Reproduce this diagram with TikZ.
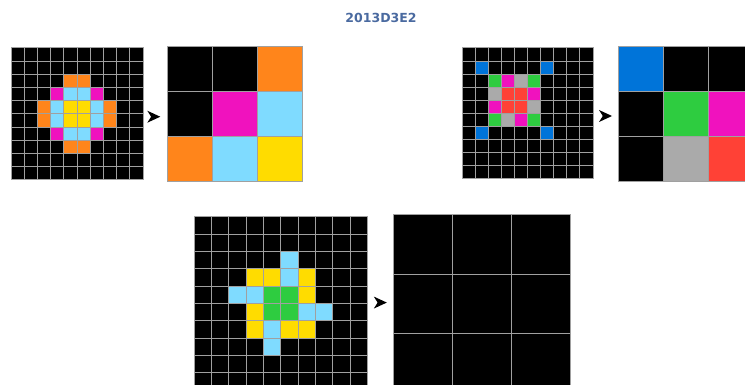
\documentclass[tikz,border=0pt]{standalone}
\usepackage{fontspec}
\newfontfamily\titlefont{DejaVu Sans}
\usetikzlibrary{calc}
\definecolor{arcO}{HTML}{FF851B}
\definecolor{arcM}{HTML}{F012BE}
\definecolor{arcB}{HTML}{7FDBFF}
\definecolor{arcY}{HTML}{FFDC00}
\definecolor{arcDB}{HTML}{0074D9}
\definecolor{arcG}{HTML}{2ECC40}
\definecolor{arcGr}{HTML}{AAAAAA}
\definecolor{arcR}{HTML}{FF4136}
\definecolor{titleblue}{RGB}{74,106,160}
\definecolor{gridln}{HTML}{A0A0A0}
\tikzset{
  gridbox/.style={fill=black, draw=gridln, line width=1pt, inner sep=0pt, outer sep=0pt, anchor=north west},
  gridline/.style={draw=gridln, line width=1pt},
  tiptri/.style={fill=black, draw=none},
  titletext/.style={text=titleblue, font=\titlefont\bfseries\fontsize{12.5}{14}\selectfont}
}
% name, x0, y0, cell, n, cells
\newcommand{\arcgrid}[6]{%
  \pgfmathsetmacro{\gsz}{#4*#5}
  \node[gridbox, minimum width=\gsz pt, minimum height=\gsz pt] (#1) at (#2,#3) {};
  \foreach \cc/\rr/\cellcol in {#6} {
    \fill[\cellcol] ({#2+\cc*#4},{#3+\rr*#4}) rectangle ++(#4,#4);
  }
  \pgfmathtruncatemacro{\nm}{#5-1}
  \foreach \i in {1,...,\nm} {
    \draw[gridline] ({#2+\i*#4},#3) -- ++(0,\gsz);
    \draw[gridline] (#2,{#3+\i*#4}) -- ++(\gsz,0);
  }
  \draw[gridline] (#1.north west) rectangle (#1.south east);
}
\newcommand{\tipat}[1]{%
  \fill[tiptri] (#1) ++(6.5,0) -- ++(-13,-6) -- ++(3.8,6) -- ++(-3.8,6) -- cycle;
}
\begin{document}
\begin{tikzpicture}[x=1pt,y=-1pt]
\clip (0,0) rectangle (745,385);
\fill[white] (0,0) rectangle (745,385);
\node[titletext] (title) at (381,18) {2013D3E2};

\arcgrid{g1}{11}{48}{13.2}{10}{4/2/arcO,5/2/arcO,3/3/arcM,4/3/arcB,5/3/arcB,6/3/arcM,2/4/arcO,3/4/arcB,4/4/arcY,5/4/arcY,6/4/arcB,7/4/arcO,2/5/arcO,3/5/arcB,4/5/arcY,5/5/arcY,6/5/arcB,7/5/arcO,3/6/arcM,4/6/arcB,5/6/arcB,6/6/arcM,4/7/arcO,5/7/arcO}
\arcgrid{g2}{167}{47}{45}{3}{2/0/arcO,1/1/arcM,2/1/arcB,0/2/arcO,1/2/arcB,2/2/arcY}

\arcgrid{g3}{462}{48}{13.1}{10}{1/1/arcDB,6/1/arcDB,2/2/arcG,3/2/arcM,4/2/arcGr,5/2/arcG,2/3/arcGr,3/3/arcR,4/3/arcR,5/3/arcM,2/4/arcM,3/4/arcR,4/4/arcR,5/4/arcGr,2/5/arcG,3/5/arcGr,4/5/arcM,5/5/arcG,1/6/arcDB,6/6/arcDB}
\arcgrid{g4}{618}{47}{45}{3}{0/0/arcDB,1/1/arcG,2/1/arcM,1/2/arcGr,2/2/arcR}

\arcgrid{g5}{194.3}{217}{17.33}{10}{5/2/arcB,3/3/arcY,4/3/arcY,5/3/arcB,6/3/arcY,2/4/arcB,3/4/arcB,4/4/arcG,5/4/arcG,6/4/arcY,3/5/arcY,4/5/arcG,5/5/arcG,6/5/arcB,7/5/arcB,3/6/arcY,4/6/arcB,5/6/arcY,6/6/arcY,4/7/arcB}
\arcgrid{g6}{393}{215}{59}{3}{}

\coordinate (a1) at ($(g1.east)!0.45!(g2.west)+(0,2.5)$);
\coordinate (a2) at ($(g3.east)!0.5!(g4.west)+(0,2)$);
\coordinate (a3) at ($(g5.east)!0.5!(g6.west)+(0,-1)$);
\tipat{a1}
\tipat{a2}
\tipat{a3}
\end{tikzpicture}
\end{document}
